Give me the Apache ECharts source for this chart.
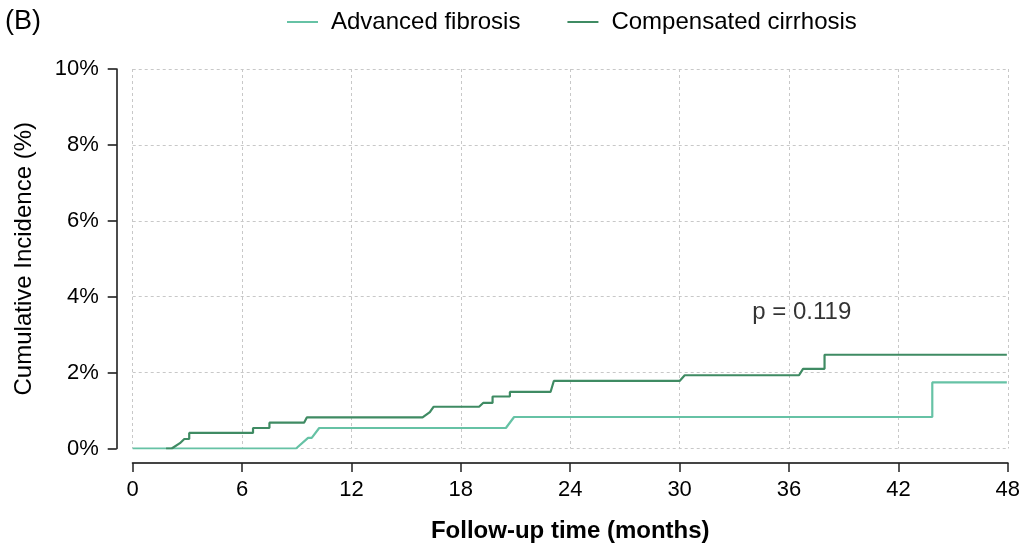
<!DOCTYPE html>
<html>
<head>
<meta charset="utf-8">
<script src="https://cdn.jsdelivr.net/npm/echarts@6/dist/echarts.min.js"></script>
<style>
  html, body { margin: 0; padding: 0; background: #fff; }
  #chart { width: 1023px; height: 548px; }
</style>
</head>
<body>
<div id="chart"></div>
<script>
// ---- Data (months, cumulative incidence %) ----
const seriesNames = ['Advanced fibrosis', 'Compensated cirrhosis'];
const afTime = [0, 8.96, 9.62, 9.82, 10.23, 20.47, 20.92, 43.86, 43.86, 47.95];
const afPct  = [0, 0,    0.28, 0.28, 0.54,  0.54,  0.83,  0.83,  1.74,  1.74];
const ccTime = [1.83, 2.14, 2.59, 2.83, 3.1,  3.1,  6.6,  6.6,  7.5,  7.5,  9.4,  9.55, 15.9, 16.3, 16.5, 19.0, 19.22, 19.74, 19.74, 20.69, 20.69, 22.92, 23.1, 30.0, 30.28, 36.55, 36.77, 37.95, 37.95, 47.95];
const ccPct  = [0,    0,    0.14, 0.25, 0.25, 0.41, 0.41, 0.54, 0.54, 0.68, 0.68, 0.82, 0.82, 0.96, 1.10, 1.10, 1.20,  1.20,  1.37,  1.37,  1.49,  1.49,  1.78, 1.78, 1.93,  1.93,  2.10,  2.10,  2.47,  2.47];
const xTicks = [0, 6, 12, 18, 24, 30, 36, 42, 48];
const yTicks = [0, 2, 4, 6, 8, 10];
const pText = 'p = 0.119';
const pPos = [36.7, 3.6];
const panelLabel = '(B)';

const zip = (a, b) => a.map((t, i) => [t, b[i]]);
const colors = ['#66C2A5', '#3F8B63'];
const FONT = 'Liberation Sans, Arial, sans-serif';

const chart = echarts.init(document.getElementById('chart'), null, { renderer: 'canvas' });
chart.setOption({
  animation: false,
  backgroundColor: '#fff',
  textStyle: { fontFamily: FONT },
  grid: { left: 132.7, right: 14.7, top: 69, bottom: 91.5, containLabel: false },
  legend: {
    data: seriesNames,
    left: 287, top: 10, padding: 0,
    icon: 'rect', itemWidth: 31, itemHeight: 2, itemGap: 47,
    textStyle: { fontSize: 24, color: '#000', fontFamily: FONT, padding: [0, 0, 0, 8] }
  },
  graphic: [{
    type: 'text', left: 5, top: 8,
    style: { text: panelLabel, fontSize: 27, fill: '#000', fontFamily: FONT }
  }],
  xAxis: {
    type: 'value', min: xTicks[0], max: xTicks[xTicks.length - 1], interval: 6,
    offset: 14.5,
    name: 'Follow-up time (months)', nameLocation: 'middle', nameGap: 56,
    nameTextStyle: { fontSize: 24, fontWeight: 'bold', color: '#000', fontFamily: FONT },
    axisLine: { show: true, onZero: false, lineStyle: { color: '#444', width: 2 } },
    axisTick: { show: true, length: 9, lineStyle: { color: '#222', width: 1.5 } },
    axisLabel: { fontSize: 22, color: '#000', margin: 16, fontFamily: FONT },
    splitLine: { show: true, lineStyle: { color: '#c8c8c8', type: [3, 3], width: 1 } }
  },
  yAxis: {
    type: 'value', min: yTicks[0], max: yTicks[yTicks.length - 1], interval: 2,
    offset: 16,
    name: 'Cumulative Incidence (%)', nameLocation: 'middle', nameGap: 80,
    nameTextStyle: { fontSize: 24, color: '#000', fontFamily: FONT },
    axisLine: { show: true, onZero: false, lineStyle: { color: '#111', width: 1.5 } },
    axisTick: { show: true, length: 9, lineStyle: { color: '#111', width: 1.5 } },
    axisLabel: { fontSize: 22, color: '#000', margin: 18, formatter: '{value}%', fontFamily: FONT },
    splitLine: { show: true, lineStyle: { color: '#c8c8c8', type: [3, 3], width: 1 } }
  },
  series: [
    {
      name: seriesNames[0], type: 'line', data: zip(afTime, afPct),
      symbol: 'none', color: colors[0], lineStyle: { width: 2.2, color: colors[0] }, z: 2
    },
    {
      name: seriesNames[1], type: 'line', data: zip(ccTime, ccPct),
      symbol: 'none', color: colors[1], lineStyle: { width: 2.2, color: colors[1] }, z: 3
    },
    {
      name: 'pvalue', type: 'scatter', data: [pPos], symbolSize: 0, silent: true,
      label: { show: true, position: 'inside', formatter: pText, fontSize: 24, color: '#000', fontFamily: FONT }
    }
  ]
});
</script>
</body>
</html>
